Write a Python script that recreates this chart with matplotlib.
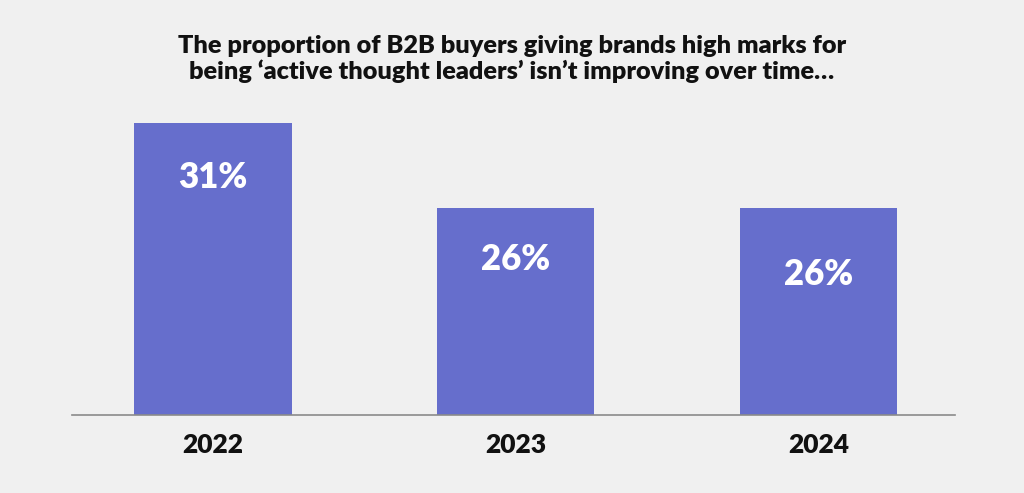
import matplotlib
matplotlib.use("Agg")
import matplotlib.pyplot as plt

# data
years = ["2022", "2023", "2024"]
shares = [31, 26, 26]
title = ("The proportion of B2B buyers giving brands high marks for\n"
         "being \u2018active thought leaders\u2019 isn\u2019t improving over time\u2026")

bg = "#f0f0f0"
bar_color = "#666ecc"
# how far below each bar top the label sits (points), as in the original
label_drop = [39, 37, 48]

plt.rcParams['font.family'] = ['Lato', 'DejaVu Sans']

fig = plt.figure(figsize=(10.24, 4.93), dpi=100, facecolor=bg)
ax = fig.add_axes([72 / 1024, 78 / 493, 883 / 1024, 315 / 493])
ax.set_facecolor(bg)

x = range(len(years))
bars = ax.bar(x, shares, width=0.52, color=bar_color, zorder=2)

# the original bars do not start at zero
ax.set_ylim(13.82, 32.35)
ax.set_xlim(-0.466, 2.451)

for b, v, d in zip(bars, shares, label_drop):
    ax.annotate(f"{v}%", (b.get_x() + b.get_width() / 2, v), xytext=(0, -d),
                textcoords="offset points", ha="center", va="center",
                color="white", fontsize=25, fontweight="heavy")

ax.set_xticks(list(x))
ax.set_xticklabels(years, fontsize=19, fontweight="heavy", color="#111111")
ax.tick_params(axis="x", length=0, pad=13)
ax.set_yticks([])
for s in ["top", "right", "left"]:
    ax.spines[s].set_visible(False)
ax.spines["bottom"].set_color("#8a8a8a")
ax.spines["bottom"].set_linewidth(1.2)

fig.text(0.5, 1 - 59 / 493, title, ha="center", va="center", fontsize=18.2,
         fontweight="heavy", color="#111111", linespacing=1.15)

fig.savefig("out.png", dpi=100, facecolor=bg)
